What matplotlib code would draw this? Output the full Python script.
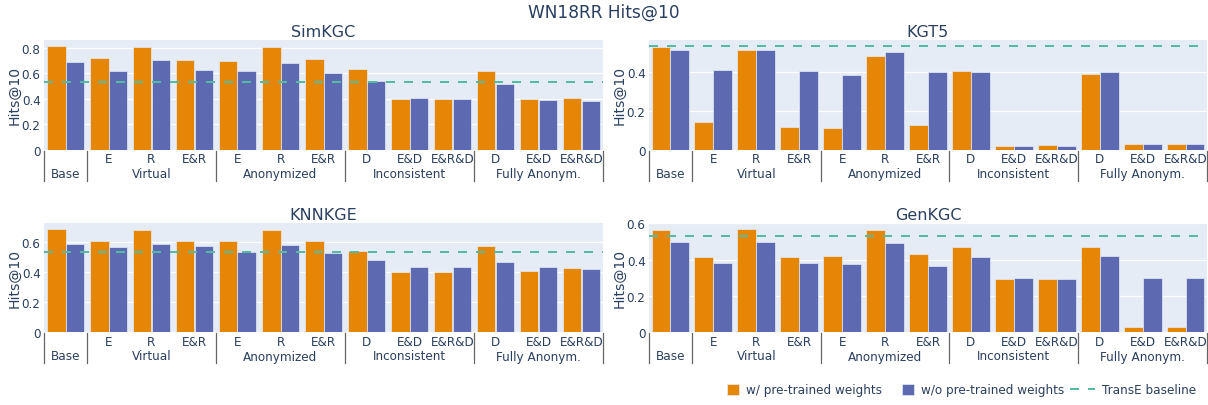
import matplotlib
matplotlib.use('Agg')
import matplotlib.pyplot as plt
from matplotlib.patches import Patch
from matplotlib.lines import Line2D
from matplotlib.ticker import FuncFormatter, MultipleLocator
from matplotlib.legend_handler import HandlerLine2D

# categories (multi-level x axis)
groups = ['Base', 'Virtual', 'Anonymized', 'Inconsistent', 'Fully Anonym.']
group_sizes = [1, 3, 3, 3, 3]
inner_labels = ['', 'E', 'R', 'E&R', 'E', 'R', 'E&R',
                'D', 'E&D', 'E&R&D', 'D', 'E&D', 'E&R&D']

# Hits@10 values
simkgc_w = [0.81, 0.72, 0.805, 0.706, 0.696, 0.805, 0.714, 0.633, 0.399, 0.399, 0.62, 0.396, 0.404]
simkgc_wo = [0.69, 0.62, 0.70, 0.625, 0.615, 0.68, 0.60, 0.539, 0.404, 0.40, 0.516, 0.391, 0.383]
kgt5_w = [0.53, 0.144, 0.516, 0.12, 0.113, 0.482, 0.128, 0.405, 0.02, 0.024, 0.391, 0.031, 0.031]
kgt5_wo = [0.515, 0.41, 0.513, 0.405, 0.386, 0.503, 0.402, 0.402, 0.02, 0.02, 0.402, 0.031, 0.031]
knnkge_w = [0.684, 0.607, 0.679, 0.604, 0.604, 0.677, 0.607, 0.54, 0.397, 0.397, 0.571, 0.408, 0.424]
knnkge_wo = [0.587, 0.569, 0.585, 0.574, 0.534, 0.58, 0.527, 0.479, 0.432, 0.432, 0.465, 0.432, 0.421]
genkgc_w = [0.565, 0.415, 0.567, 0.413, 0.422, 0.561, 0.429, 0.468, 0.294, 0.295, 0.468, 0.026, 0.026]
genkgc_wo = [0.499, 0.383, 0.497, 0.382, 0.378, 0.492, 0.367, 0.415, 0.297, 0.295, 0.42, 0.301, 0.297]
transe_baseline = 0.532

panels = [
    ('SimKGC', simkgc_w, simkgc_wo),
    ('KGT5', kgt5_w, kgt5_wo),
    ('KNNKGE', knnkge_w, knnkge_wo),
    ('GenKGC', genkgc_w, genkgc_wo),
]

ORANGE = '#E58606'
BLUE = '#5D69B1'
TEAL = '#52BCA3'
BG = '#E5ECF6'
TXT = '#2a3f5f'

W, H = 1208, 406
plt.rcParams['font.family'] = ['DejaVu Sans']
plt.rcParams['text.color'] = TXT

fig = plt.figure(figsize=(W / 100, H / 100), dpi=100)

# axes rectangles in pixels: left, top, right, bottom
rects = [(44, 41, 603, 151), (649, 41, 1207, 151),
         (44, 224, 603, 333), (649, 224, 1207, 333)]


def px2pt(p):
    return p * 0.72


def fmt(v, pos):
    return '0' if abs(v) < 1e-9 else f'{v:g}'


class LongLine(HandlerLine2D):
    def create_artists(self, legend, orig_handle, xdescent, ydescent, width, height, fontsize, trans):
        extra = width * 1.1
        return super().create_artists(legend, orig_handle, xdescent + extra, ydescent,
                                      width + extra, height, fontsize, trans)


x = list(range(len(inner_labels)))
bw = 0.44

for (title, w_vals, wo_vals), (l, t, r, b) in zip(panels, rects):
    ax = fig.add_axes([l / W, 1 - b / H, (r - l) / W, (b - t) / H])
    ax.set_facecolor(BG)
    ax.bar([i - bw / 2 for i in x], w_vals, bw, color=ORANGE, edgecolor=BG, linewidth=0.5, zorder=2)
    ax.bar([i + bw / 2 for i in x], wo_vals, bw, color=BLUE, edgecolor=BG, linewidth=0.5, zorder=2)
    ax.axhline(transe_baseline, color=TEAL, lw=1.44, linestyle=(0, (4.5, 4.5)), zorder=3)

    top = max(max(w_vals), max(wo_vals), transe_baseline) * 1.062
    ax.set_xlim(-0.5, len(x) - 0.5)
    ax.set_ylim(0, top)
    ax.yaxis.set_major_locator(MultipleLocator(0.2))
    ax.yaxis.set_major_formatter(FuncFormatter(fmt))
    ax.grid(axis='y', color='white', lw=0.9, zorder=1)
    ax.set_axisbelow(True)
    for s in ax.spines.values():
        s.set_visible(False)
    ax.set_xticks([])
    ax.tick_params(axis='y', length=0, pad=2.5, labelsize=px2pt(12), labelcolor=TXT)
    ax.set_ylabel('Hits@10', fontsize=px2pt(14), color=TXT)
    ax.yaxis.set_label_coords(-23 / (r - l), 0.5)
    ax.set_title(title, fontsize=px2pt(16), color=TXT, pad=3)

    # inner category labels
    for i, lab in enumerate(inner_labels):
        ax.annotate(lab, (i, 0), xycoords=('data', 'axes fraction'),
                    xytext=(0, -px2pt(9)), textcoords='offset points',
                    ha='center', va='center', fontsize=px2pt(12), color=TXT)
    # group labels and dividers
    ax_h = b - t
    start = -0.5
    for g, n in zip(groups, group_sizes):
        ax.annotate(g, (start + n / 2, 0), xycoords=('data', 'axes fraction'),
                    xytext=(0, -px2pt(24)), textcoords='offset points',
                    ha='center', va='center', fontsize=px2pt(12), color=TXT)
        ax.plot([start, start], [-1 / ax_h, -31 / ax_h], color='#666666', lw=0.9,
                transform=ax.get_xaxis_transform(), clip_on=False)
        start += n
    ax.plot([start, start], [-1 / ax_h, -31 / ax_h], color='#666666', lw=0.9,
            transform=ax.get_xaxis_transform(), clip_on=False)

fig.text(0.5, 1 - 13 / H, 'WN18RR Hits@10', ha='center', va='center',
         fontsize=px2pt(17), color=TXT)

handles = [Patch(facecolor=ORANGE, edgecolor=BG, linewidth=0.5),
           Patch(facecolor=BLUE, edgecolor=BG, linewidth=0.5),
           Line2D([0], [0], color=TEAL, lw=1.44, linestyle=(0, (4.5, 4.5)))]
labels = ['w/ pre-trained weights', 'w/o pre-trained weights', 'TransE baseline']
fig.legend(handles, labels, loc='center right', bbox_to_anchor=(1205 / W, 15 / H),
           ncol=3, frameon=False, fontsize=px2pt(12), handlelength=1.0, handleheight=1.0,
           handletextpad=0.6, columnspacing=1.6, borderpad=0.2,
           handler_map={Line2D: LongLine()}, labelcolor=TXT)

fig.savefig('out.png', dpi=100)
